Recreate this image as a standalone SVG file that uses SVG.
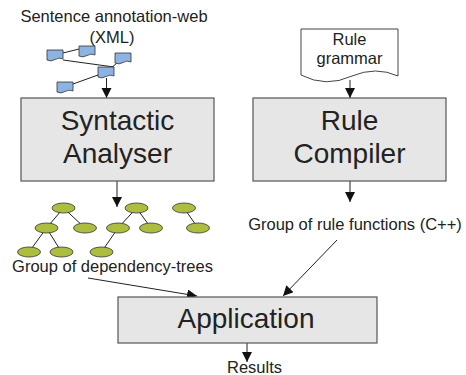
<svg xmlns="http://www.w3.org/2000/svg" xmlns:xlink="http://www.w3.org/1999/xlink" width="466" height="375" viewBox="0 0 466 375">
<style>
  .box { fill: #e6e6e6; stroke: #555; stroke-width: 1.2; }
  .big { font-family: "Liberation Sans", Arial, sans-serif; font-size: 28px; fill: #222; text-anchor: middle; }
  .lbl { font-family: "Liberation Sans", Arial, sans-serif; font-size: 16.5px; fill: #222; text-anchor: middle; }
  .doc { fill: #8db3e2; stroke: #333; stroke-width: 0.8; }
  .nd { fill: #adbd3e; stroke: #333; stroke-width: 0.8; }
  .ln { stroke: #222; stroke-width: 1; fill: none; }
  .arr { stroke: #222; stroke-width: 1; fill: none; marker-end: url(#ah); }
</style>
<defs>
  <marker id="ah" markerUnits="userSpaceOnUse" markerWidth="10" markerHeight="12" refX="10" refY="5" orient="auto">
    <path d="M0,0 L10,5 L0,10 Z" fill="#111"/>
  </marker>
  <path id="sdoc" d="M0,0 H16 V9 Q12,7 8,9.5 Q4,12 0,10 Z"/>
</defs>

<g id="connectors">
  <!-- web lines -->
  <line class="ln" x1="63" y1="53" x2="79" y2="49"/>
  <line class="ln" x1="63" y1="60" x2="114" y2="67"/>
  <line class="ln" x1="117" y1="63" x2="110" y2="69"/>
  <line class="ln" x1="73" y1="84" x2="98" y2="75"/>
  <!-- tree edges -->
  <line class="ln" x1="63.5" y1="208" x2="46.5" y2="228"/>
  <line class="ln" x1="63.5" y1="208" x2="85" y2="228"/>
  <line class="ln" x1="46.5" y1="228" x2="29" y2="252"/>
  <line class="ln" x1="46.5" y1="228" x2="61.5" y2="252"/>
  <line class="ln" x1="136.5" y1="208" x2="118" y2="228"/>
  <line class="ln" x1="136.5" y1="208" x2="151" y2="228"/>
  <line class="ln" x1="118" y1="228" x2="101.5" y2="252"/>
  <line class="ln" x1="184" y1="208" x2="198" y2="228"/>
  <!-- arrows -->
  <line class="arr" x1="106.5" y1="78" x2="106.5" y2="98"/>
  <line class="arr" x1="350" y1="80" x2="350" y2="98"/>
  <line class="arr" x1="117" y1="181" x2="117" y2="207"/>
  <line class="arr" x1="350" y1="181" x2="350" y2="202"/>
  <line class="arr" x1="337" y1="240" x2="283" y2="296"/>
  <line class="arr" x1="88" y1="278" x2="197" y2="296"/>
  <line class="arr" x1="247" y1="343" x2="247" y2="362"/>
</g>

<g id="annotation-web">
  <use href="#sdoc" xlink:href="#sdoc" class="doc" x="47" y="50"/>
  <use href="#sdoc" xlink:href="#sdoc" class="doc" x="79" y="46"/>
  <use href="#sdoc" xlink:href="#sdoc" class="doc" x="115" y="53"/>
  <use href="#sdoc" xlink:href="#sdoc" class="doc" x="98" y="67"/>
  <use href="#sdoc" xlink:href="#sdoc" class="doc" x="57" y="82"/>
  <text class="lbl" x="114" y="22">Sentence annotation-web</text>
  <text class="lbl" x="112" y="43">(XML)</text>
</g>

<g id="rule-grammar">
  <path d="M301,29 H398 V76 Q376,66 352,76 Q326,88 301,75 Z" fill="#fff" stroke="#444" stroke-width="1"/>
  <text class="lbl" x="349.5" y="45">Rule</text>
  <text class="lbl" x="349.5" y="64">grammar</text>
</g>

<g id="syntactic-analyser">
  <rect class="box" x="21" y="98" width="193" height="83"/>
  <text class="big" x="117.5" y="130">Syntactic</text>
  <text class="big" x="117.5" y="163">Analyser</text>
</g>

<g id="rule-compiler">
  <rect class="box" x="253" y="98" width="193" height="83"/>
  <text class="big" x="349.5" y="130">Rule</text>
  <text class="big" x="349.5" y="163">Compiler</text>
</g>

<g id="dependency-trees">
  <ellipse class="nd" cx="63.5" cy="208" rx="11.5" ry="5"/>
  <ellipse class="nd" cx="46.5" cy="228" rx="11.5" ry="5"/>
  <ellipse class="nd" cx="85" cy="228" rx="11.5" ry="5"/>
  <ellipse class="nd" cx="29" cy="252" rx="11.5" ry="5"/>
  <ellipse class="nd" cx="61.5" cy="252" rx="11.5" ry="5"/>
  <ellipse class="nd" cx="136.5" cy="208" rx="11.5" ry="5"/>
  <ellipse class="nd" cx="118" cy="228" rx="11.5" ry="5"/>
  <ellipse class="nd" cx="151" cy="228" rx="11.5" ry="5"/>
  <ellipse class="nd" cx="101.5" cy="252" rx="11.5" ry="5"/>
  <ellipse class="nd" cx="184" cy="208" rx="11.5" ry="5"/>
  <ellipse class="nd" cx="198" cy="228" rx="11.5" ry="5"/>
  <text class="lbl" x="112.5" y="272">Group of dependency-trees</text>
</g>

<g id="rule-functions">
  <text class="lbl" x="355" y="230">Group of rule functions (C++)</text>
</g>

<g id="application">
  <rect class="box" x="118" y="297" width="259" height="46"/>
  <text class="big" x="246" y="328">Application</text>
</g>

<g id="results">
  <text class="lbl" x="254.5" y="373">Results</text>
</g>
</svg>
